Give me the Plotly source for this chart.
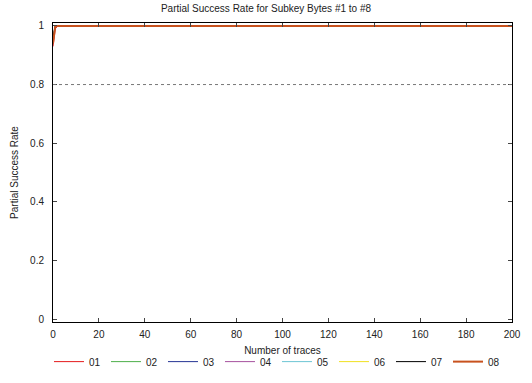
import plotly.graph_objects as go

traces = [0, 1, 2, 200]
series_names = ["01", "02", "03", "04", "05", "06", "07", "08"]
series_values = [
    [0.93, 0.99, 1.0, 1.0],
    [0.95, 1.0, 1.0, 1.0],
    [0.96, 1.0, 1.0, 1.0],
    [0.94, 1.0, 1.0, 1.0],
    [0.97, 1.0, 1.0, 1.0],
    [0.95, 1.0, 1.0, 1.0],
    [0.96, 1.0, 1.0, 1.0],
    [0.94, 1.0, 1.0, 1.0],
]
colors = ["#e41a1c", "#4daf4a", "#253494", "#a6509e", "#6cc5d4", "#f0e020", "#000000", "#c8521e"]
widths = [1, 1, 1, 1, 1, 1, 1, 2]
threshold = 0.8
x_ticks = [0, 20, 40, 60, 80, 100, 120, 140, 160, 180, 200]
y_ticks = [0, 0.2, 0.4, 0.6, 0.8, 1]

fig = go.Figure()
for name, vals, c, w in zip(series_names, series_values, colors, widths):
    fig.add_trace(go.Scatter(x=traces, y=vals, mode="lines", name=name,
                             line=dict(color=c, width=w)))

fig.add_hline(y=threshold, line=dict(color="#777777", width=1, dash="dot"))

font = "Liberation Sans, Arial, Helvetica, sans-serif"
fig.update_layout(
    width=532, height=383,
    margin=dict(l=53, r=20, t=23, b=61, autoexpand=False),
    paper_bgcolor="white", plot_bgcolor="white",
    font=dict(family=font, size=10, color="#222222"),
    title=dict(text="Partial Success Rate for Subkey Bytes #1 to #8",
               x=0.5, xanchor="center", y=0.977, yanchor="middle",
               font=dict(size=10, family=font, color="#222222")),
    showlegend=True,
    legend=dict(orientation="h", x=0.488, xanchor="center", y=-0.084, yanchor="top",
                font=dict(size=10), entrywidth=12, itemwidth=30,
                bgcolor="rgba(0,0,0,0)", traceorder="normal"),
    xaxis=dict(range=[0, 200], tickvals=x_ticks, ticks="inside", ticklen=4,
               showline=True, linecolor="black", linewidth=1, mirror="ticks",
               showgrid=False, zeroline=False, tickfont=dict(size=10),
               ticklabelstandoff=3,
               title=dict(text="Number of traces", font=dict(size=10), standoff=7)),
    yaxis=dict(range=[-0.01, 1.01], tickvals=y_ticks, ticktext=["0", "0.2", "0.4", "0.6", "0.8", "1"],
               ticks="inside", ticklen=4,
               showline=True, linecolor="black", linewidth=1, mirror="ticks",
               showgrid=False, zeroline=False, tickfont=dict(size=10),
               ticklabelstandoff=6,
               title=dict(text="Partial Success Rate", font=dict(size=10), standoff=9)),
)

fig.write_html("out.html", config={"displayModeBar": False},
               post_script="document.body.style.margin='0';")
